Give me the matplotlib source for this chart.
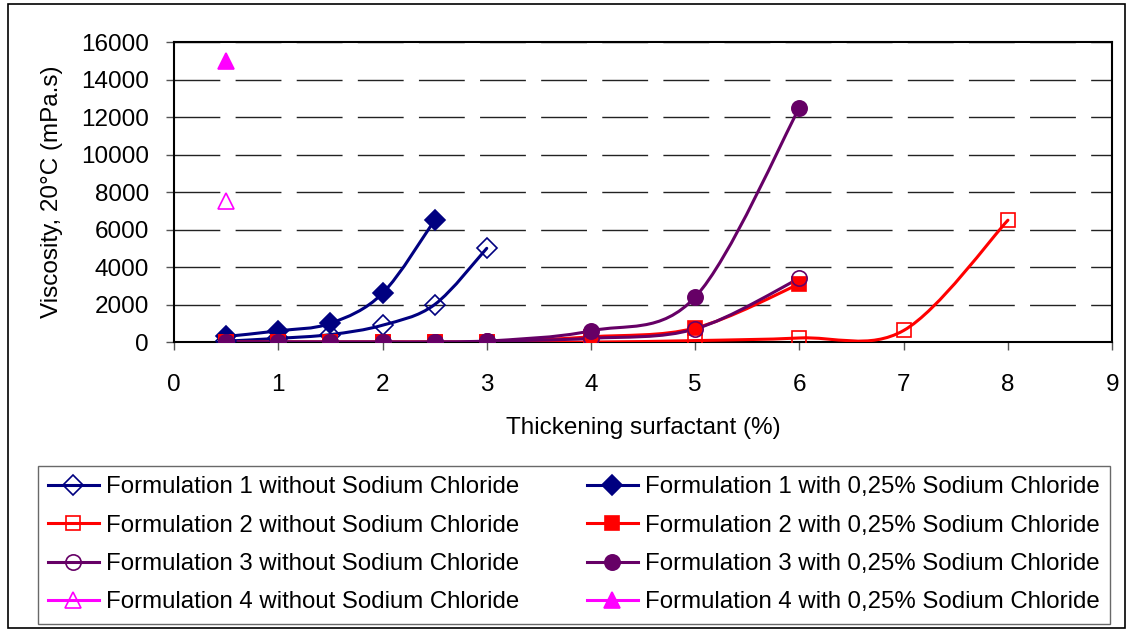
import matplotlib.pyplot as plt
from matplotlib.path import Path
from matplotlib.patches import PathPatch, Rectangle
from matplotlib.lines import Line2D

plt.rcParams['font.family'] = ['Liberation Sans', 'DejaVu Sans']

# data
x_f1 = [0.5, 1, 1.5, 2, 2.5, 3]
f1_without = [50, 200, 400, 900, 2000, 5000]
x_f1w = [0.5, 1, 1.5, 2, 2.5]
f1_with = [300, 600, 1000, 2600, 6500]

x_f2 = [0.5, 1, 1.5, 2, 2.5, 3, 4, 5, 6, 7, 8]
f2_without = [0, 0, 0, 0, 0, 0, 0, 80, 220, 620, 6500]
x_f2w = [0.5, 1, 1.5, 2, 2.5, 3, 4, 5, 6]
f2_with = [0, 0, 0, 0, 0, 0, 280, 750, 3100]

x_f3 = [0.5, 1, 1.5, 2, 2.5, 3, 4, 5, 6]
f3_without = [0, 0, 0, 0, 0, 50, 200, 700, 3400]
f3_with = [0, 0, 0, 0, 0, 50, 600, 2400, 12500]

x_f4 = [0.5]
f4_without = [7500]
f4_with = [15000]

navy = '#000080'
red = '#ff0000'
purple = '#660066'
magenta = '#ff00ff'

series = [
    ("Formulation 1 without Sodium Chloride", x_f1, f1_without, navy, 'D', False),
    ("Formulation 1 with 0,25% Sodium Chloride", x_f1w, f1_with, navy, 'D', True),
    ("Formulation 2 without Sodium Chloride", x_f2, f2_without, red, 's', False),
    ("Formulation 2 with 0,25% Sodium Chloride", x_f2w, f2_with, red, 's', True),
    ("Formulation 3 without Sodium Chloride", x_f3, f3_without, purple, 'o', False),
    ("Formulation 3 with 0,25% Sodium Chloride", x_f3, f3_with, purple, 'o', True),
    ("Formulation 4 without Sodium Chloride", x_f4, f4_without, magenta, '^', False),
    ("Formulation 4 with 0,25% Sodium Chloride", x_f4, f4_with, magenta, '^', True),
]
marker_size = {'D': 10, 's': 10, 'o': 11, '^': 11.5}


def smooth_path(xs, ys):
    # excel-like smoothed line: bezier segments, catmull-rom style handles
    pts = list(zip(xs, ys))
    verts = [pts[0]]
    codes = [Path.MOVETO]
    n = len(pts)
    for i in range(n - 1):
        p0 = pts[i - 1] if i > 0 else pts[i]
        p1 = pts[i]
        p2 = pts[i + 1]
        p3 = pts[i + 2] if i + 2 < n else pts[i + 1]
        c1 = (p1[0] + (p2[0] - p0[0]) / 6, p1[1] + (p2[1] - p0[1]) / 6)
        c2 = (p2[0] - (p3[0] - p1[0]) / 6, p2[1] - (p3[1] - p1[1]) / 6)
        verts += [c1, c2, p2]
        codes += [Path.CURVE4] * 3
    return Path(verts, codes)


fig = plt.figure(figsize=(11.33, 6.3), dpi=100)
ax = fig.add_axes([0.1536, 0.457, 0.828, 0.4763])

handles = []
for label, xs, ys, col, mk, filled in series:
    if len(xs) > 1:
        ax.add_patch(PathPatch(smooth_path(xs, ys), facecolor='none', edgecolor=col,
                               lw=2.2, zorder=3, capstyle='round', joinstyle='round'))
    ms = marker_size[mk]
    ax.plot(xs, ys, ls='none', marker=mk, ms=ms, mec=col, mew=1.2,
            mfc=col if filled else 'none', zorder=4)
    handles.append(Line2D([], [], color=col, lw=2.2, marker=mk, ms=ms, mec=col, mew=1.2,
                          mfc=col if filled else 'none', label=label))

ax.set_xlim(0, 9)
ax.set_ylim(0, 16000)
ax.set_xticks(range(10))
ax.set_yticks(range(0, 16001, 2000))
ax.tick_params(direction='out', labelsize=17.5, length=6, width=1, color='#555555')
ax.tick_params(axis='x', pad=17)
ax.tick_params(axis='y', pad=12)
for s in ax.spines.values():
    s.set_linewidth(1.5)
    s.set_color('black')
ax.yaxis.grid(True, color='#222222', lw=1, linestyle=(0, (33, 11)))
ax.set_axisbelow(True)
ax.set_xlabel("Thickening surfactant (%)", fontsize=17.5, labelpad=15)
ax.set_ylabel("Viscosity, 20°C (mPa.s)", fontsize=17.5, labelpad=13)

order = [0, 2, 4, 6, 1, 3, 5, 7]
leg = fig.legend([handles[i] for i in order], [handles[i].get_label() for i in order],
                 ncol=2, loc='upper left', bbox_to_anchor=(0.0335, 0.006, 0.946, 0.2537),
                 mode='expand', fontsize=17.3, frameon=True, fancybox=False,
                 handlelength=2.1, handletextpad=0.3, labelspacing=0.68,
                 borderpad=0.42, columnspacing=2.0, borderaxespad=0)
leg.get_frame().set_edgecolor('#444444')
leg.get_frame().set_linewidth(1)

fig.patches.append(Rectangle((0.007, 0.003), 0.986, 0.99, transform=fig.transFigure,
                             fill=False, edgecolor='black', lw=1.2))

fig.savefig('out.png', dpi=100)
